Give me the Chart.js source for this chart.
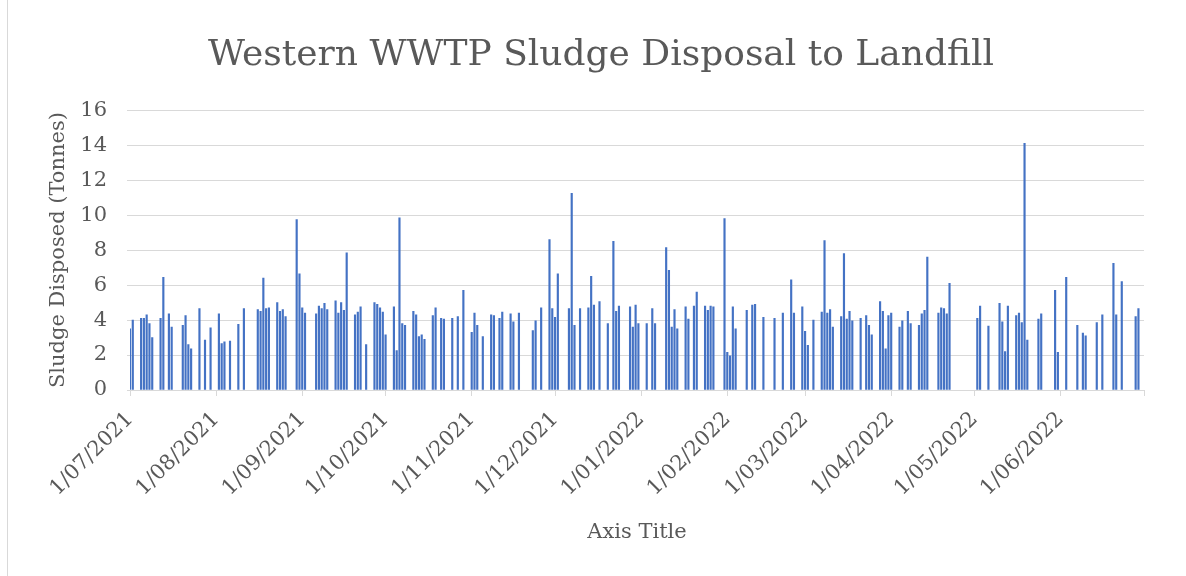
<!DOCTYPE html>
<html>
<head>
<meta charset="utf-8">
<script src="https://cdn.jsdelivr.net/npm/chart.js@4/dist/chart.umd.min.js"></script>
<style>
  html, body { margin: 0; padding: 0; background: #fff; }
  #wrap { position: relative; width: 1186px; height: 576px; }
  #frame { position: absolute; left: 7px; top: 0; width: 1px; height: 576px; background: #d9d9d9; }
</style>
</head>
<body>
<div id="wrap">
  <canvas id="sludgeChart" width="1186" height="576"></canvas>
  <div id="frame"></div>
</div>
<script>
// days counted from 1/07/2021 (day 0)
const disposalDays = [
  0, 1, 4, 5, 6, 7, 8, 11, 12, 14, 15, 19, 20, 21, 22, 25, 27, 29, 32, 33, 34, 36, 39, 41,
  46, 47, 48, 49, 50, 53, 54, 55, 56, 60, 61, 62, 63, 67, 68, 69, 70, 71, 74, 75, 76, 77, 78, 81, 82, 83, 85, 88, 89,
  90, 91, 92, 95, 96, 97, 98, 99, 102, 103, 104, 105, 106, 109, 110, 112, 113, 116, 118, 120, 123, 124, 125, 127, 130, 131, 133, 134,
  137, 138, 140, 145, 146, 148, 151, 152, 153, 154, 158, 159, 160, 162, 165, 166, 167, 169, 172, 174, 175, 176,
  180, 181, 182, 183, 186, 188, 189, 193, 194, 195, 196, 197, 200, 201, 203, 204, 207, 208, 209, 210, 214, 215, 216, 217, 218, 222, 224,
  225, 228, 232, 235, 238, 239, 242, 243, 244, 246, 249, 250, 251, 252, 253, 256, 257, 258, 259, 260, 263, 265, 266, 267,
  270, 271, 272, 273, 274, 277, 278, 280, 281, 284, 285, 286, 287, 291, 292, 293, 294, 295, 305, 306, 309, 313, 314,
  315, 316, 319, 320, 321, 322, 323, 327, 328, 333, 334, 337, 341, 343, 344, 348, 350, 354, 355, 357, 362, 363
];

const tonnesDisposed = [
  3.5, 4.0, 4.1, 4.1, 4.3, 3.8, 3.0, 4.1, 6.45, 4.35, 3.6, 3.7, 4.25, 2.6, 2.35, 4.65, 2.85, 3.55, 4.35, 2.65, 2.75, 2.8, 3.75, 4.65,
  4.6, 4.5, 6.4, 4.65, 4.7, 5.0, 4.5, 4.6, 4.2, 9.75, 6.65, 4.7, 4.4, 4.35, 4.8, 4.65, 4.95, 4.6, 5.1, 4.4, 5.0, 4.55, 7.85, 4.3, 4.45, 4.75, 2.6, 5.0, 4.9,
  4.7, 4.45, 3.15, 4.75, 2.25, 9.85, 3.8, 3.7, 4.5, 4.3, 3.05, 3.15, 2.9, 4.25, 4.7, 4.1, 4.05, 4.1, 4.2, 5.7, 3.3, 4.4, 3.7, 3.05, 4.3, 4.25, 4.1, 4.45,
  4.35, 3.9, 4.4, 3.4, 3.95, 4.7, 8.6, 4.65, 4.15, 6.65, 4.65, 11.25, 3.7, 4.65, 4.7, 6.5, 4.85, 5.05, 3.8, 8.5, 4.5, 4.8,
  4.75, 3.6, 4.85, 3.8, 3.8, 4.65, 3.8, 8.15, 6.85, 3.6, 4.6, 3.5, 4.75, 4.05, 4.8, 5.6, 4.8, 4.55, 4.8, 4.75, 9.8, 2.15, 1.95, 4.75, 3.5, 4.55, 4.85,
  4.9, 4.15, 4.1, 4.4, 6.3, 4.4, 4.75, 3.35, 2.55, 4.0, 4.45, 8.55, 4.4, 4.6, 3.6, 4.2, 7.8, 4.05, 4.5, 3.95, 4.1, 4.25, 3.7, 3.15,
  5.05, 4.5, 2.35, 4.25, 4.4, 3.6, 3.95, 4.5, 3.8, 3.7, 4.35, 4.55, 7.6, 4.4, 4.7, 4.65, 4.35, 6.1, 4.1, 4.8, 3.65, 4.95, 3.9,
  2.2, 4.8, 4.25, 4.4, 3.85, 14.1, 2.85, 4.05, 4.35, 5.7, 2.15, 6.45, 3.7, 3.25, 3.1, 3.85, 4.3, 7.25, 4.3, 6.2, 4.2, 4.65
];

const monthTickDays = [0, 31, 62, 92, 123, 153, 184, 215, 243, 274, 304, 335, 365];
const monthTickLabels = [
  "1/07/2021", "1/08/2021", "1/09/2021", "1/10/2021", "1/11/2021", "1/12/2021",
  "1/01/2022", "1/02/2022", "1/03/2022", "1/04/2022", "1/05/2022", "1/06/2022", ""
];

const textColor = "#595959";
const gridColor = "#d9d9d9";
Chart.defaults.font.family = "'DejaVu Serif', serif";
Chart.defaults.color = textColor;

new Chart(document.getElementById("sludgeChart"), {
  type: "bar",
  data: {
    datasets: [{
      label: "Sludge Disposed",
      data: disposalDays.map((d, i) => ({ x: d, y: tonnesDisposed[i] })),
      backgroundColor: "#4472C4",
      barThickness: 1.5
    }]
  },
  options: {
    responsive: false,
    animation: false,
    layout: { padding: { left: 16, right: 0, top: 0, bottom: 0 } },
    plugins: {
      legend: { display: false },
      tooltip: { enabled: false },
      title: {
        display: true,
        text: "Western WWTP Sludge Disposal to Landfill",
        color: textColor,
        font: { size: 36, weight: "normal" },
        padding: { top: 34, bottom: 33 }
      }
    },
    scales: {
      x: {
        type: "linear",
        min: 0,
        max: 365,
        offset: false,
        afterBuildTicks: scale => {
          scale.ticks = monthTickDays.map(v => ({ value: v }));
        },
        afterFit: scale => { scale.height = 186; },
        ticks: {
          autoSkip: false,
          minRotation: 45,
          maxRotation: 45,
          padding: 11,
          color: textColor,
          font: { size: 21 },
          callback: (value, index) => monthTickLabels[index]
        },
        grid: {
          offset: false,
          drawOnChartArea: false,
          drawTicks: true,
          tickLength: 6,
          color: gridColor
        },
        border: { display: true, color: gridColor },
        title: {
          display: true,
          text: "Axis Title",
          color: textColor,
          font: { size: 21 },
          padding: { top: 0, bottom: 31 }
        }
      },
      y: {
        min: 0,
        max: 16,
        afterFit: scale => { scale.width = 114; },
        ticks: {
          stepSize: 2,
          padding: 20,
          color: textColor,
          font: { size: 21 }
        },
        grid: { color: gridColor, tickLength: 3 },
        border: { display: false },
        title: {
          display: true,
          text: "Sludge Disposed (Tonnes)",
          color: textColor,
          font: { size: 21 },
          padding: { top: 30, bottom: 0 }
        }
      },
      // empty right-hand margin so the title centres like the original
      spacer: {
        type: "linear",
        position: "right",
        display: true,
        afterFit: scale => { scale.width = 42; },
        ticks: { display: false },
        grid: { display: false, drawTicks: false },
        border: { display: false }
      }
    }
  }
});
</script>
</body>
</html>
